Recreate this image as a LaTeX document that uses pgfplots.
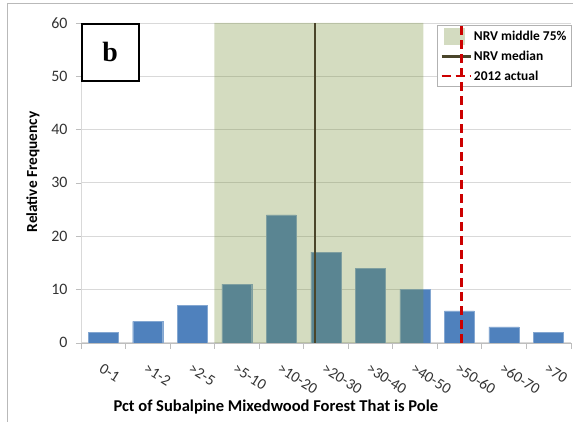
\documentclass[border=0pt]{standalone}
\usepackage{pgfplots}
\pgfplotsset{compat=1.18}
\usepackage{fontspec}
\setmainfont{Carlito}
\newfontfamily\serifb{Liberation Serif}
\definecolor{barblue}{RGB}{79,129,189}
\definecolor{bandgreen}{RGB}{116,142,52}
\definecolor{medcol}{RGB}{74,69,42}
\definecolor{actred}{RGB}{204,0,0}
\definecolor{gridgray}{RGB}{217,217,217}
\definecolor{axgray}{RGB}{190,190,190}
\pgfplotsset{
  bandlegend/.style={legend image code/.code={\fill[##1] (0bp,-8.5bp) rectangle (21bp,8.5bp);}},
  linelegend/.style={legend image code/.code={\draw[##1] (-2bp,0bp) -- (27bp,0bp);}},
}
\begin{document}
\begin{tikzpicture}
\begin{axis}[
  scale only axis, width=490bp, height=320bp,
  xmin=-0.5, xmax=10.5, ymin=0, ymax=60,
  ytick={0,10,...,60},
  xtick={0,...,10},
  xticklabels={0-1,>1-2,>2-5,>5-10,>10-20,>20-30,>30-40,>40-50,>50-60,>60-70,>70},
  minor xtick={-0.5,0.5,...,10.5},
  every major x tick/.append style={draw=none},
  axis lines*=left,
  axis line style={-},
  x axis line style={draw=axgray},
  y axis line style={draw=gridgray},
  tick align=outside,
  major tick length=5bp, minor tick length=6bp,
  tick style={axgray},
  ymajorgrids, grid style={gridgray, line width=0.8bp},
  /pgf/number format/assume math mode=true,
  yticklabel style={font=\fontsize{16}{18}\selectfont, text=black!80, xshift=-5bp},
  xticklabel style={font=\fontsize{15.5}{18}\selectfont, text=black!80, rotate=-32, anchor=north west, xshift=5bp, yshift=-9bp},
  ylabel={Relative Frequency},
  ylabel style={font=\bfseries\fontsize{15.4}{17}\selectfont, at={(axis description cs:-0.098,0.534)}, anchor=center},
  xlabel={Pct of Subalpine Mixedwood Forest That is Pole},
  xlabel style={font=\bfseries\fontsize{16.6}{18}\selectfont, at={(axis description cs:0.398,-0.2)}, anchor=center},
  legend style={at={(rel axis cs:1.002,0.995)}, anchor=north east, draw=gray!60,
    font=\bfseries\fontsize{13.5}{15}\selectfont, row sep=4.5bp, inner xsep=3bp, inner ysep=3bp},
  legend cell align=left,
]
\addplot[ybar, bar width=30bp, fill=barblue, draw=barblue!70!white, forget plot]
  coordinates {(0,2) (1,4) (2,7) (3,11) (4,24) (5,17) (6,14) (7,10) (8,6) (9,3) (10,2)};
\addplot[draw=none, fill=bandgreen, fill opacity=0.31, bandlegend]
  coordinates {(2.5,0) (2.5,60) (7.19,60) (7.19,0)} \closedcycle;
\addlegendentry{NRV middle 75\%}
\addplot[medcol, line width=2.5bp, linelegend]
  coordinates {(4.76,0) (4.76,60)};
\addlegendentry{NRV median}
\addplot[actred, line width=2.5bp, dash pattern=on 9bp off 5bp, linelegend]
  coordinates {(8.05,0) (8.05,60)};
\addlegendentry{2012 actual}
\node[draw, fill=white, line width=1.6bp, minimum width=57bp, minimum height=57bp,
  anchor=north west, inner sep=0pt, font=\serifb\bfseries\fontsize{28}{30}\selectfont]
  at (rel axis cs:0,1) {b};
\end{axis}
\begin{axis}[
  scale only axis, width=490bp, height=320bp,
  xmin=-0.5, xmax=10.5, ymin=0, ymax=60, hide axis]
\addplot[actred, line width=2.5bp, dash pattern=on 9bp off 5bp]
  coordinates {(8.05,0) (8.05,60)};
\end{axis}
\pgfresetboundingbox
\path (current axis.south west) ++(-81bp,-79bp) rectangle ++(573bp,422bp);
\draw[gray!55, line width=0.8bp] (current axis.south west) ++(-74bp,-79bp) -- ++(0,419bp) -- ++(566bp,0);
\end{tikzpicture}
\end{document}
